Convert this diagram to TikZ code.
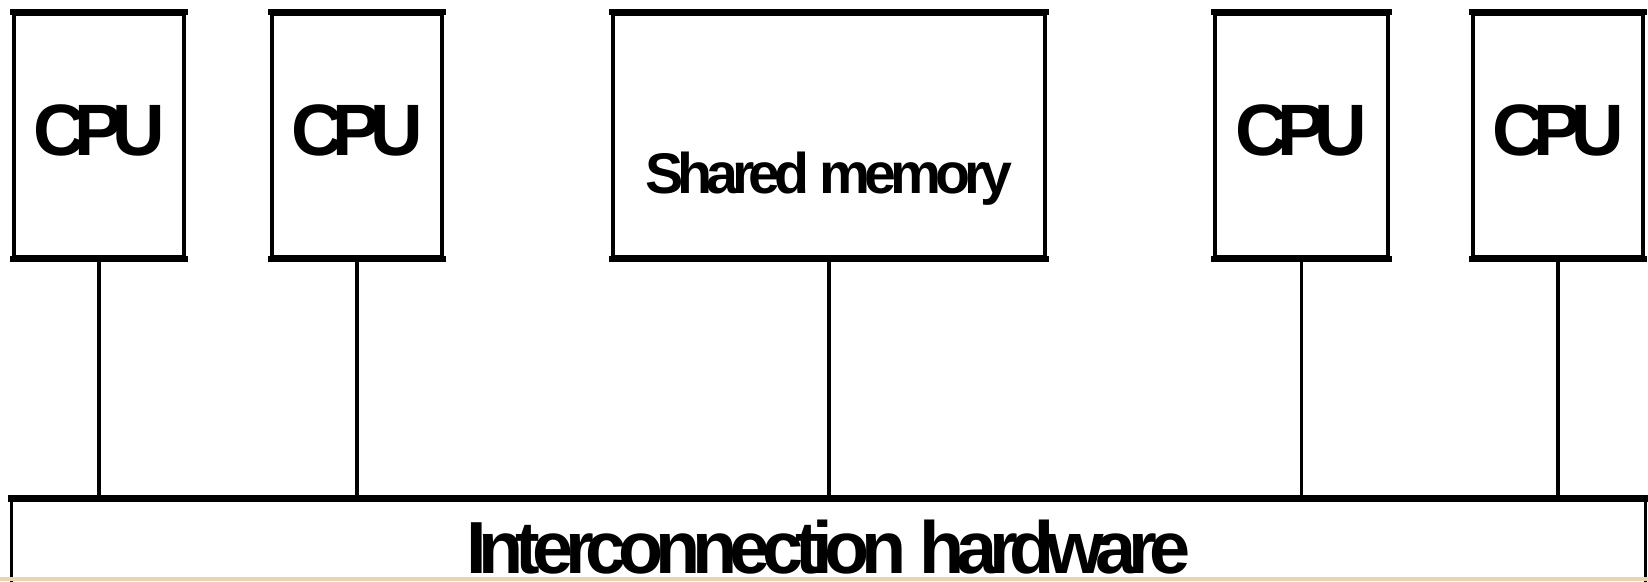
\documentclass[tikz,border=0pt]{standalone}
\usepackage{fontspec}
\setmainfont{Liberation Sans}
\usetikzlibrary{calc}
\definecolor{stripcol}{RGB}{232,214,176}
\begin{document}
\begin{tikzpicture}[x=0.01cm,y=-0.01cm,
  box/.style={draw=black,line width=1pt,fill=white,inner sep=0pt,minimum width=1.70cm,minimum height=2.43cm},
  hedge/.style={line width=1.75pt,shorten <=-0.5pt,shorten >=-0.5pt},
  wire/.style={line width=1.0pt},
  cputxt/.style={anchor=base,inner sep=0pt,font=\fontsize{20.7pt}{24pt}\selectfont\bfseries\addfontfeatures{LetterSpace=-15}},
  memtxt/.style={anchor=base,inner sep=0pt,font=\fontsize{16.3pt}{19pt}\selectfont\bfseries\addfontfeatures{LetterSpace=-10.5}},
  bustxt/.style={anchor=base,inner sep=0pt,font=\fontsize{21pt}{24pt}\selectfont\bfseries\addfontfeatures{LetterSpace=-11}}]
\useasboundingbox (0,0) rectangle (1648,581);
\clip (0,0) rectangle (1648,581);
\fill[white] (0,0) rectangle (1648,581);

\node[box] (c1) at (99,135.5) {};
\node[box] (c2) at (357,135.5) {};
\node[box,minimum width=4.32cm] (mem) at (829,135.5) {};
\node[box,minimum width=1.73cm] (c3) at (1301.5,135.5) {};
\node[box] (c4) at (1558,135.5) {};
\node[box,minimum width=16.33cm,minimum height=2cm] (bus) at (828.5,600) {};

\foreach \n in {c1,c2,mem,c3,c4}{
  \draw[hedge] (\n.north west) -- (\n.north east);
  \draw[hedge] (\n.south west) -- (\n.south east);
}
\draw[hedge,line width=2pt] (bus.north west) -- (bus.north east);

\foreach \n in {c1,c2,mem,c3,c4}{
  \draw[wire] (\n.south) -- (\n.south |- bus.north);
}

\node[cputxt] (t1) at ($(c1.center)+(0,19.5)$) {CPU};
\node[cputxt] (t2) at ($(c2.center)+(0,19.5)$) {CPU};
\node[memtxt] (tm) at ($(mem.center)+(0,57.5)$) {Shared memory};
\node[cputxt] (t3) at ($(c3.center)+(0,19.5)$) {CPU};
\node[cputxt] (t4) at ($(c4.center)+(0,19.5)$) {CPU};
\node[bustxt] (tb) at (828.5,573) {Interconnection hardware};

\fill[stripcol] (0,577) rectangle (1648,581);
\end{tikzpicture}
\end{document}
